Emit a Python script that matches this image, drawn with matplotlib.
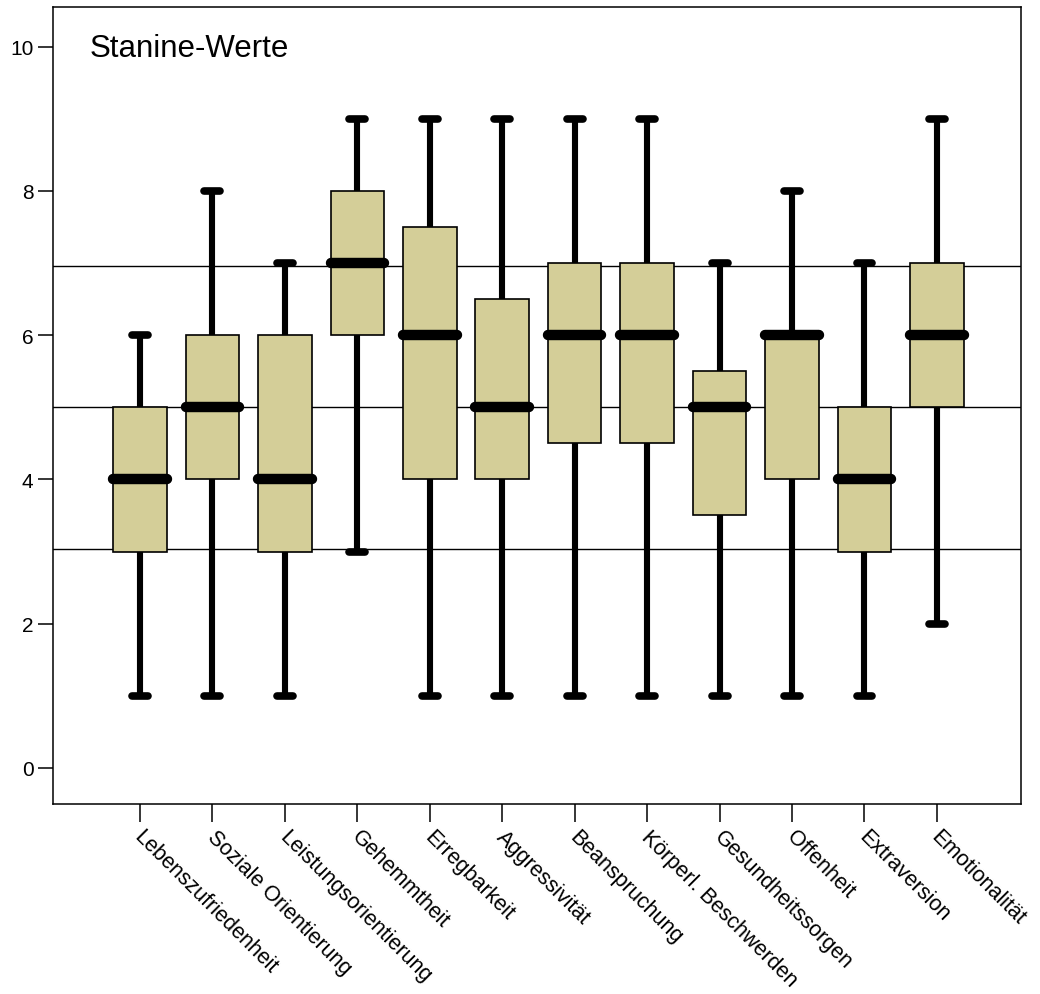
import matplotlib
matplotlib.use('Agg')
import matplotlib.pyplot as plt
import matplotlib.transforms as mtransforms
import numpy as np

plt.rcParams['font.family'] = ['Liberation Sans', 'DejaVu Sans']

# Stanine-Werte je Skala
skalen = ['Lebenszufriedenheit', 'Soziale Orientierung', 'Leistungsorientierung',
          'Gehemmtheit', 'Erregbarkeit', 'Aggressivität', 'Beanspruchung',
          'Körperl. Beschwerden', 'Gesundheitssorgen', 'Offenheit',
          'Extraversion', 'Emotionalität']
minimum = [1, 1, 1, 3, 1, 1, 1, 1, 1, 1, 1, 2]
q1 = [3, 4, 3, 6, 4, 4, 4.5, 4.5, 3.5, 4, 3, 5]
median = [4, 5, 4, 7, 6, 5, 6, 6, 5, 6, 4, 6]
q3 = [5, 6, 6, 8, 7.5, 6.5, 7, 7, 5.5, 6, 5, 7]
maximum = [6, 8, 7, 9, 9, 9, 9, 9, 7, 8, 7, 9]
ref_linien = [5 - 1.96, 5, 5 + 1.96]

fig = plt.figure(figsize=(10.4, 9.95), dpi=100)
ax = fig.add_axes([0.051, 0.191, 0.9307, 0.801])

pos = np.arange(1, len(skalen) + 1)
box_w = 0.74
cap_w = 0.22
farbe = '#d4ce98'

for y in ref_linien:
    ax.axhline(y, color='black', lw=1.0, zorder=1)

for i, x in enumerate(pos):
    # Whisker
    ax.plot([x, x], [q3[i], maximum[i]], color='black', lw=4.4, solid_capstyle='butt', zorder=2)
    ax.plot([x, x], [minimum[i], q1[i]], color='black', lw=4.4, solid_capstyle='butt', zorder=2)
    for y in (minimum[i], maximum[i]):
        ax.plot([x - cap_w / 2, x + cap_w / 2], [y, y], color='black', lw=5.5,
                solid_capstyle='round', zorder=2)
    # Box
    ax.add_patch(plt.Rectangle((x - box_w / 2, q1[i]), box_w, q3[i] - q1[i],
                               facecolor=farbe, edgecolor='black', lw=1.2, zorder=3))
    # Median
    ax.plot([x - box_w / 2, x + box_w / 2], [median[i], median[i]], color='black',
            lw=7.5, solid_capstyle='round', zorder=4)

ax.set_xlim(-0.2, 13.16)
ax.set_ylim(-0.5, 10.55)
ax.set_yticks([0, 2, 4, 6, 8, 10])
ax.set_xticks(pos)
ax.set_xticklabels(skalen, rotation=-45, ha='left', va='top', rotation_mode='anchor')
ax.tick_params(axis='y', length=11, width=1.1, labelsize=15, pad=3)
ax.tick_params(axis='x', length=13, width=1.1, labelsize=15.5, pad=3)
shift = mtransforms.ScaledTranslation(5 / 100, 0, fig.dpi_scale_trans)
for lbl in ax.get_xticklabels():
    lbl.set_transform(lbl.get_transform() + shift)
for s in ax.spines.values():
    s.set_linewidth(1.1)

ax.text(0.038, 0.948, 'Stanine-Werte', transform=ax.transAxes, fontsize=22.5,
        ha='left', va='center')

fig.savefig('out.png', dpi=100)
